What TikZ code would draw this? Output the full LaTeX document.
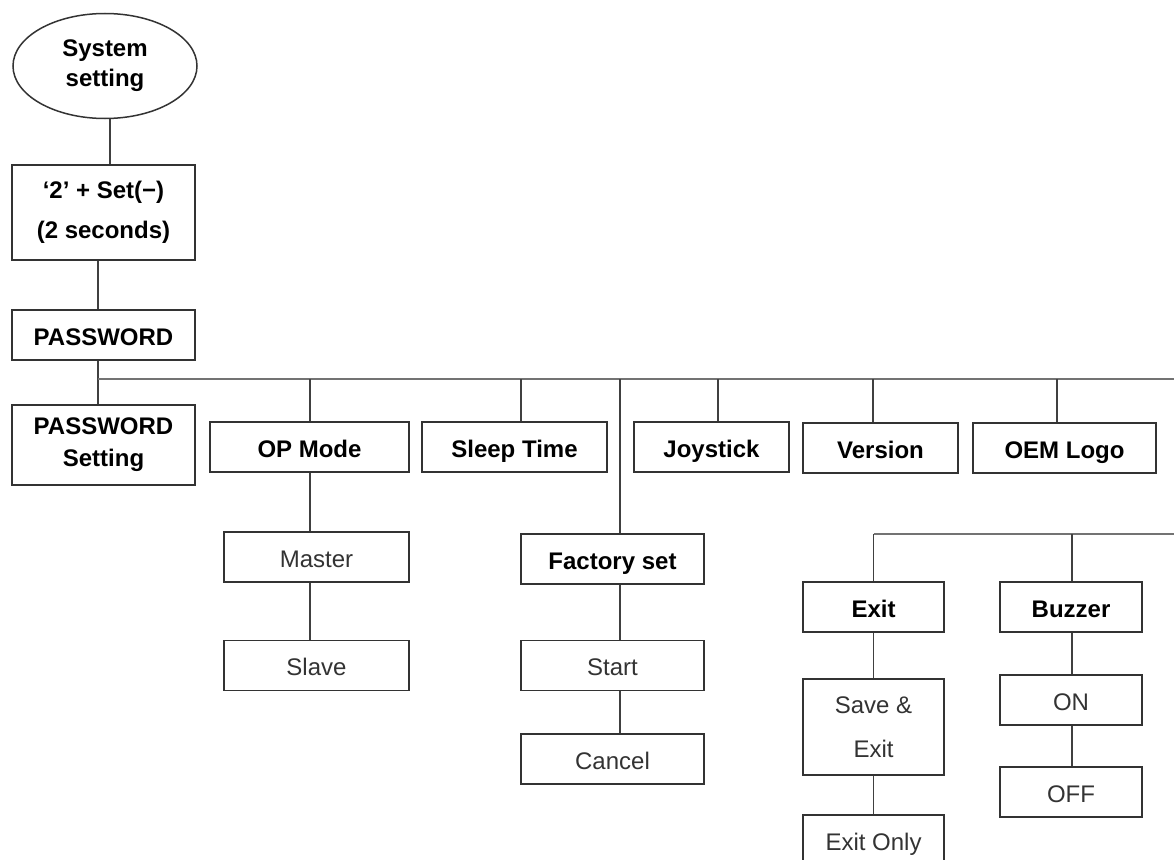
\documentclass[tikz,border=0pt]{standalone}
\usepackage{fontspec}
\setmainfont{Liberation Sans}
\usetikzlibrary{shapes.geometric}

\begin{document}
\begin{tikzpicture}[x=1pt,y=1pt,
		box/.style={draw=black!80,line width=1.7pt,inner sep=0pt,minimum height=50pt,align=center},
		head/.style={box,text height=20pt,text depth=0pt,font=\fontsize{24}{30}\selectfont\bfseries},
		item/.style={box,text height=20pt,text depth=0pt,text=black!80,font=\fontsize{24}{30}\selectfont},
		link/.style={draw=black!75,line width=1.8pt},
		bus/.style={draw=black!55,line width=2.2pt}]
				\useasboundingbox[fill=white] (0,0) rectangle (1174,-859);
				% left column
				\node[draw=black!80,line width=1.5pt,ellipse,minimum width=184pt,minimum height=105pt,inner sep=0pt,align=center,font=\fontsize{24}{30}\selectfont\bfseries] (sys) at (105,-66) {System\\setting};
				\node[box,minimum width=183pt,minimum height=95pt,font=\fontsize{24}{40}\selectfont\bfseries] (keys) at (103.5,-212.5) {‘2’ + Set(−)\\(2 seconds)};
				\node[head,minimum width=183pt] (pw) at (103.5,-335) {PASSWORD};
				\node[box,minimum width=183pt,minimum height=80pt,font=\fontsize{24}{32}\selectfont\bfseries] (pwset) at (103.5,-445) {PASSWORD\\Setting};
				% first row of menus
				\node[head,minimum width=199pt] (opm) at (309.5,-447) {OP Mode};
				\node[head,minimum width=185pt] (sleep) at (514.5,-447) {Sleep Time};
				\node[head,minimum width=155pt] (joy) at (711.5,-447) {Joystick};
				\node[head,minimum width=155pt] (ver) at (880.5,-448) {Version};
				\node[head,minimum width=183pt] (oem) at (1064.5,-448) {OEM Logo};
				\node[item,minimum width=185pt] (master) at (316.5,-557) {Master};
				\node[item,minimum width=185pt] (slave) at (316.5,-665.5) {Slave};
				\node[head,minimum width=183pt] (fac) at (612.5,-559) {Factory set};
				\node[item,minimum width=183pt] (start) at (612.5,-665.5) {Start};
				\node[item,minimum width=183pt] (cancel) at (612.5,-759) {Cancel};
				% second row
				\node[head,minimum width=141pt] (exit) at (873.5,-607) {Exit};
				\node[box,text=black!80,minimum width=141pt,minimum height=96pt,font=\fontsize{24}{44}\selectfont] (save) at (873.5,-727) {Save \&\\Exit};
				\node[item,minimum width=141pt] (only) at (873.5,-840) {Exit Only};
				\node[head,minimum width=142pt] (buzz) at (1071,-607) {Buzzer};
				\node[item,minimum width=142pt] (on) at (1071,-700) {ON};
				\node[item,minimum width=142pt] (off) at (1071,-792) {OFF};
				\coordinate (busL) at (98,-379);
				\coordinate (busR) at (1174,-379);
				\coordinate (busB) at (1174,-534);
				% connectors
				\path[link] ([xshift=5]sys.south) -- ([xshift=5]sys.south |- keys.north);
				\path[link] ([xshift=-5.5]keys.south) -- ([xshift=-5.5]pw.north);
				\path[link] ([xshift=-5.5]pw.south) -- ([xshift=-5.5]pwset.north);
				\path[bus] (busL) -- (busR);
				\foreach \n/\dx in {opm/0.5, sleep/6.5, joy/6.5, ver/-7.5, oem/-7.5}
					\path[link] ([xshift=\dx]\n.north) -- ([xshift=\dx]\n.north |- busL);
				\path[link] ([xshift=7.5]fac.north) -- ([xshift=7.5]fac.north |- busL);
				\path[link] ([xshift=0.5]opm.south) -- ([xshift=0.5]opm.south |- master.north);
				\path[link] ([xshift=-6.5]master.south) -- ([xshift=-6.5]slave.north);
				\path[link] ([xshift=7.5]fac.south) -- ([xshift=7.5]start.north);
				\path[link] ([xshift=7.5]start.south) -- ([xshift=7.5]cancel.north);
				\path[bus] (exit.north |- busB) -- (busB);
				\path[link] (exit.north) -- (exit.north |- busB);
				\path[link] ([xshift=1]buzz.north) -- ([xshift=1]buzz.north |- busB);
				\path[link] (exit.south) -- (save.north);
				\path[link] (save.south) -- (only.north);
				\path[link] ([xshift=1]buzz.south) -- ([xshift=1]on.north);
				\path[link] ([xshift=1]on.south) -- ([xshift=1]off.north);
			\end{tikzpicture}
\end{document}
